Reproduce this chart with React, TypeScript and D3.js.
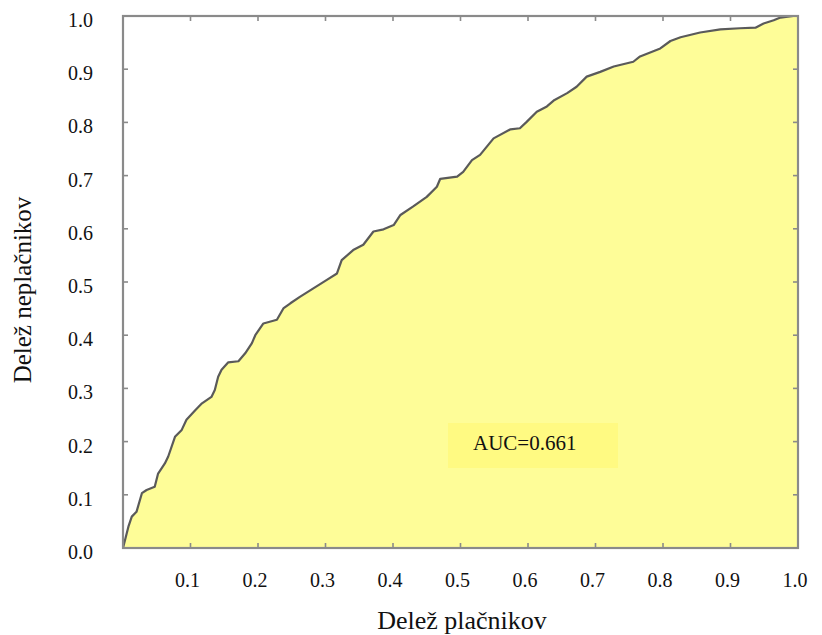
import React from "react";
import * as d3 from "d3";

const rocX = [0, 0.008, 0.013, 0.02, 0.028, 0.035, 0.047, 0.052, 0.062, 0.067, 0.077, 0.087, 0.094, 0.107, 0.117, 0.131, 0.136, 0.141, 0.146, 0.156, 0.171, 0.181, 0.191, 0.196, 0.208, 0.228, 0.238, 0.248, 0.262, 0.282, 0.302, 0.317, 0.324, 0.341, 0.356, 0.371, 0.386, 0.401, 0.411, 0.43, 0.45, 0.465, 0.47, 0.495, 0.504, 0.517, 0.529, 0.549, 0.574, 0.588, 0.598, 0.613, 0.628, 0.638, 0.658, 0.672, 0.687, 0.707, 0.727, 0.756, 0.766, 0.796, 0.811, 0.826, 0.855, 0.885, 0.914, 0.937, 0.949, 0.964, 0.974, 0.993, 1];
const rocY = [0, 0.04, 0.059, 0.068, 0.103, 0.109, 0.115, 0.14, 0.159, 0.172, 0.209, 0.222, 0.241, 0.259, 0.272, 0.284, 0.297, 0.322, 0.335, 0.349, 0.351, 0.366, 0.385, 0.4, 0.422, 0.429, 0.451, 0.46, 0.472, 0.488, 0.504, 0.516, 0.541, 0.56, 0.57, 0.595, 0.599, 0.607, 0.626, 0.642, 0.66, 0.679, 0.694, 0.698, 0.707, 0.729, 0.739, 0.77, 0.787, 0.789, 0.801, 0.82, 0.83, 0.841, 0.855, 0.867, 0.886, 0.895, 0.905, 0.914, 0.924, 0.939, 0.953, 0.96, 0.969, 0.975, 0.977, 0.978, 0.986, 0.992, 0.997, 1.0, 1];

const xTickValues = [0.1, 0.2, 0.3, 0.4, 0.5, 0.6, 0.7, 0.8, 0.9, 1.0];
const xTickLabels = ["0.1", "0.2", "0.3", "0.4", "0.5", "0.6", "0.7", "0.8", "0.9", "1.0"];
const yTickValues = [0, 0.1, 0.2, 0.3, 0.4, 0.5, 0.6, 0.7, 0.8, 0.9, 1.0];
const yTickLabels = ["0.0", "0.1", "0.2", "0.3", "0.4", "0.5", "0.6", "0.7", "0.8", "0.9", "1.0"];

const xTitle = "Delež plačnikov";
const yTitle = "Delež neplačnikov";
const aucLabel = "AUC=0.661";

export default function App() {
  const W = 822, H = 635;
  const left = 123, right = 798, top = 16, bottom = 548;
  const x = d3.scaleLinear().domain([0, 1]).range([left, right]);
  const y = d3.scaleLinear().domain([0, 1]).range([bottom, top]);
  const pts: [number, number][] = rocX.map((v, i) => [v, rocY[i]]);
  const area = d3.area<[number, number]>().x(d => x(d[0])).y0(y(0)).y1(d => y(d[1]));
  const line = d3.line<[number, number]>().x(d => x(d[0])).y(d => y(d[1]));
  const tf: React.CSSProperties = { fontFamily: '"Liberation Serif", Tinos, "Times New Roman", "DejaVu Serif", serif' };
  const axisColor = "#8a8a8a";
  const tickLen = 5;

  return (
    <svg width={W} height={H} style={{ position: "absolute", left: 0, top: 0 }}>
      <rect x={0} y={0} width={W} height={H} fill="#ffffff" />
      <path d={area(pts) || ""} fill="#fefd98" />
      <rect x={448} y={423} width={170} height={45} fill="#fffa82" />
      <text x={473} y={450} fontSize={21} fill="#111" style={tf}>{aucLabel}</text>
      <path d={line(pts) || ""} fill="none" stroke="#5a5a5a" strokeWidth={2.2} strokeLinejoin="round" />
      <rect x={left} y={top} width={right - left} height={bottom - top} fill="none" stroke={axisColor} strokeWidth={2.2} />
      {xTickValues.map((v, i) => (
        <g key={"xt" + i}>
          <line x1={x(v)} x2={x(v)} y1={bottom} y2={bottom - tickLen} stroke={axisColor} strokeWidth={1.6} />
          <line x1={x(v)} x2={x(v)} y1={top} y2={top + tickLen} stroke={axisColor} strokeWidth={1.6} />
          <text x={x(v) - 3} y={587} fontSize={20} textAnchor="middle" fill="#111" style={tf}>{xTickLabels[i]}</text>
        </g>
      ))}
      {yTickValues.map((v, i) => (
        <g key={"yt" + i}>
          <line x1={left} x2={left + tickLen} y1={y(v)} y2={y(v)} stroke={axisColor} strokeWidth={1.6} />
          <line x1={right} x2={right - tickLen} y1={y(v)} y2={y(v)} stroke={axisColor} strokeWidth={1.6} />
          <text x={93} y={y(v) + 11} fontSize={20} textAnchor="end" fill="#111" style={tf}>{yTickLabels[i]}</text>
        </g>
      ))}
      <text x={462} y={629} fontSize={26} textAnchor="middle" fill="#111" style={tf}>{xTitle}</text>
      <text transform={`translate(31, 290) rotate(-90)`} fontSize={25} textAnchor="middle" fill="#111" style={tf}>{yTitle}</text>
    </svg>
  );
}
